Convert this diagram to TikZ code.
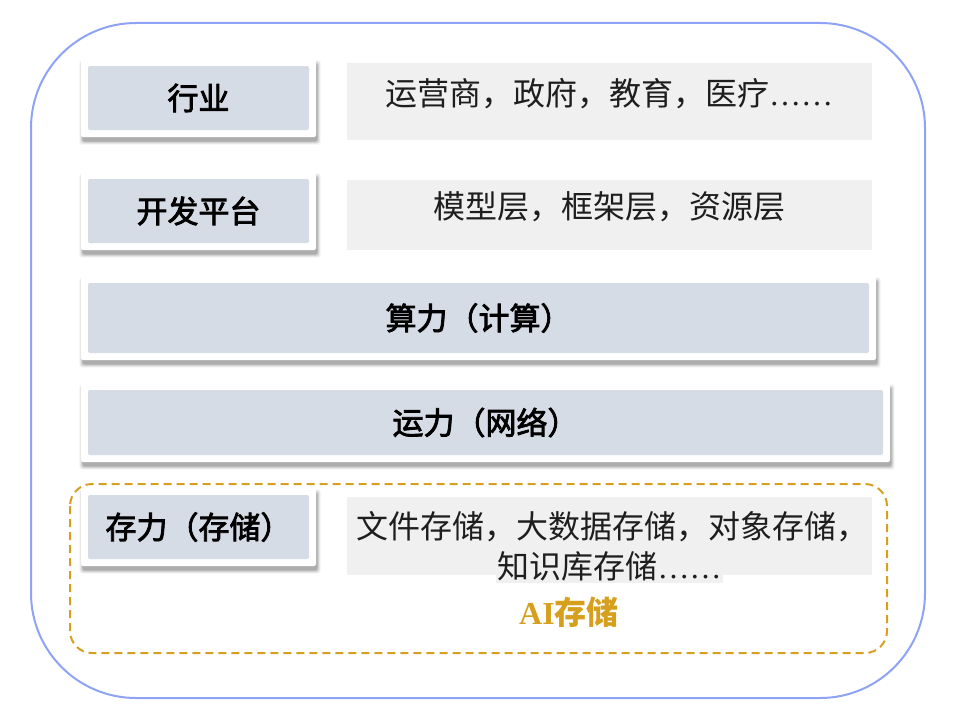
\documentclass[tikz,border=0pt]{standalone}
\usepackage{fontspec}
\setmainfont{Liberation Serif}
\newfontfamily\cjk{Noto Sans CJK SC}
\newfontfamily\cjkm[FakeBold=2.5]{Noto Sans CJK SC}
\usetikzlibrary{backgrounds}
\definecolor{boxfill}{HTML}{D6DCE5}
\definecolor{greyfill}{HTML}{F0F0F0}
\definecolor{outerblue}{HTML}{8EA3F6}
\definecolor{gold}{HTML}{D6A01E}
\definecolor{txt}{HTML}{1E1E1E}
\newcommand{\labelfont}{\fontsize{31}{36}\selectfont\cjkm}
\newcommand{\greyfont}{\fontsize{32}{40}\selectfont\cjk}
\newcommand{\boxshadow}[1]{%
  \begin{scope}[on background layer]
    \foreach \e/\op in {3/0.05,2/0.07,1/0.1,0/0.14}{%
      \fill[black, opacity=\op, rounded corners=3pt]
        ([shift={(1.5pt-\e pt,-4.5pt+\e pt)}]#1.north west) rectangle
        ([shift={(1.5pt+\e pt,-4.5pt-\e pt)}]#1.south east);
    }
  \end{scope}}
\tikzset{
  layerbox/.style={rectangle, fill=white, rounded corners=2pt, inner sep=0pt,
    path picture={\fill[boxfill] ([shift={(7pt,-7pt)}]path picture bounding box.north west) rectangle ([shift={(-7pt,7pt)}]path picture bounding box.south east);},
    font=\labelfont, text=black},
  greybox/.style={rectangle, fill=greyfill, inner sep=0pt},
  greytext/.style={inner sep=0pt, font=\greyfont, text=txt, align=center},
}
\begin{document}
\begin{tikzpicture}[x=1pt,y=-1pt]
\useasboundingbox (0,0) rectangle (960,725);
\draw[outerblue, line width=2pt, rounded corners=105pt] (31,23) rectangle (925,698);

% row 1
\node[layerbox, minimum width=235pt, minimum height=78pt] (hy) at (198.5,98) {行业};
\boxshadow{hy}
\node[greybox, minimum width=525pt, minimum height=77pt] (g1) at (609.5,101.5) {};
\node[greytext] (t1) at (609,94) {运营商，政府，教育，医疗{\rmfamily\mdseries ……}};

% row 2
\node[layerbox, minimum width=235pt, minimum height=78pt] (kf) at (198.5,211) {开发平台};
\boxshadow{kf}
\node[greybox, minimum width=525pt, minimum height=70pt] (g2) at (609.5,215) {};
\node[greytext] (t2) at (609,207) {模型层，框架层，资源层};

% row 3, 4
\node[layerbox, minimum width=795pt, minimum height=84pt] (sl) at (478.5,318) {算力（计算）};
\boxshadow{sl}
\node[layerbox, minimum width=809pt, minimum height=79pt] (yl) at (485.5,422.5) {运力（网络）};
\boxshadow{yl}

% AI storage group
\draw[gold, line width=2pt, dash pattern=on 8pt off 5pt, rounded corners=22pt] (70,484) rectangle (887,653);
\node[layerbox, minimum width=235pt, minimum height=78pt] (cl) at (198.5,527) {存力（存储）};
\boxshadow{cl}
\node[greybox, minimum width=525pt, minimum height=78pt] (g3) at (609.5,536) {};
\node[greybox, minimum width=227pt, minimum height=9pt] (g3b) at (609.5,578.5) {};
\node[greytext] (t3a) at (612,527) {文件存储，大数据存储，对象存储，};
\node[greytext] (t3b) at (609.5,566) {知识库存储{\rmfamily\mdseries ……}};
\node[inner sep=0pt, text=gold, font=\fontsize{32}{38}\selectfont\bfseries] (ai) at (569,612) {AI{\cjk 存储}};
\end{tikzpicture}
\end{document}
